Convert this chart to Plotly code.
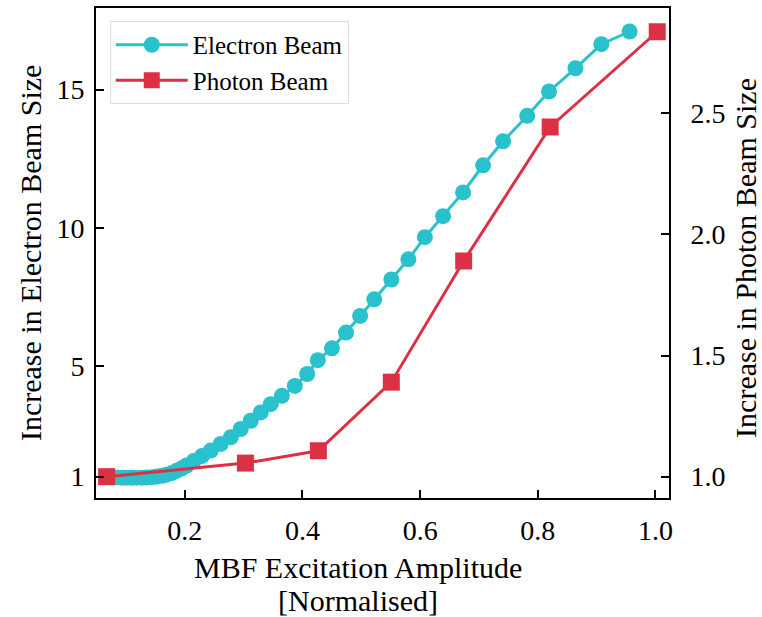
import plotly.graph_objects as go

# Electron beam (left axis)
electron_x = [0.067, 0.076, 0.084, 0.093, 0.101, 0.110, 0.118, 0.127, 0.135, 0.144,
              0.152, 0.161, 0.169, 0.178, 0.186, 0.195, 0.203, 0.215, 0.229, 0.244,
              0.261, 0.278, 0.295, 0.312, 0.329, 0.346, 0.365, 0.387, 0.408,
              0.426, 0.450, 0.474, 0.498, 0.522, 0.551, 0.580, 0.608, 0.639, 0.673,
              0.707, 0.741, 0.782, 0.819, 0.864, 0.908, 0.956]
electron_y = [1.00, 0.98, 0.97, 0.96, 0.96, 0.96, 0.96, 0.96, 0.97, 0.98,
              1.00, 1.03, 1.07, 1.13, 1.21, 1.30, 1.40, 1.56, 1.74, 1.94,
              2.18, 2.42, 2.72, 3.02, 3.32, 3.62, 3.92, 4.28, 4.71,
              5.21, 5.64, 6.21, 6.81, 7.41, 8.13, 8.86, 9.66, 10.42, 11.28,
              12.26, 13.13, 14.05, 14.93, 15.77, 16.64, 17.10]

# Photon beam (right axis)
photon_x = [0.067, 0.303, 0.427, 0.551, 0.674, 0.821, 1.003]
photon_y = [1.00, 1.056, 1.107, 1.39, 1.89, 2.443, 2.836]

x_ticks = [0.2, 0.4, 0.6, 0.8, 1.0]
left_ticks = [1, 5, 10, 15]
right_ticks = [1.0, 1.5, 2.0, 2.5]

CYAN = "#29C1CC"
RED = "#DC3144"
FONT = "Liberation Serif"

fig = go.Figure()
fig.add_trace(go.Scatter(x=electron_x, y=electron_y, name="Electron Beam",
                         mode="lines+markers",
                         line=dict(color=CYAN, width=3),
                         marker=dict(symbol="circle", size=16, color=CYAN)))
fig.add_trace(go.Scatter(x=photon_x, y=photon_y, name="Photon Beam", yaxis="y2",
                         mode="lines+markers",
                         line=dict(color=RED, width=3),
                         marker=dict(symbol="square", size=17, color=RED)))

def axis_common():
    return dict(ticks="inside", ticklen=8, tickwidth=1.5, tickcolor="black",
                showgrid=False, zeroline=False, showline=True, linecolor="black",
                linewidth=2, tickfont=dict(family=FONT, size=28, color="black"))

fig.update_layout(
    width=762, height=617,
    margin=dict(l=96, r=93, t=6, b=119),
    plot_bgcolor="white", paper_bgcolor="white",
    font=dict(family=FONT, color="black"),
    xaxis=dict(range=[0.049, 1.023], tickvals=x_ticks, ticktext=["0.2", "0.4", "0.6", "0.8", "1.0"],
               mirror=True, ticklabelstandoff=6, **axis_common()),
    yaxis=dict(range=[0.225, 17.95], tickvals=left_ticks, ticklabelstandoff=4, **axis_common()),
    yaxis2=dict(range=[0.912, 2.934], tickvals=right_ticks, ticktext=["1.0", "1.5", "2.0", "2.5"],
                overlaying="y", side="right", ticklabelstandoff=14, **axis_common()),
    showlegend=True,
    legend=dict(x=0.024, y=0.9735, xanchor="left", yanchor="top",
                bgcolor="white", bordercolor="#DDDDDD", borderwidth=1,
                font=dict(family=FONT, size=25, color="black"),
                itemwidth=72, entrywidth=190, entrywidthmode="pixels", tracegroupgap=0),
)

title_font = dict(family=FONT, size=30, color="black")
fig.add_annotation(text="MBF Excitation Amplitude", xref="paper", yref="paper",
                   x=0.457, y=-0.1423, xanchor="center", yanchor="middle", showarrow=False,
                   font=title_font)
fig.add_annotation(text="[Normalised]", xref="paper", yref="paper",
                   x=0.457, y=-0.2093, xanchor="center", yanchor="middle", showarrow=False,
                   font=title_font)
fig.add_annotation(text="Increase in Electron Beam Size", xref="paper", yref="paper",
                   x=-0.115, y=0.5, xanchor="center", yanchor="middle", textangle=-90, showarrow=False,
                   font=title_font)
fig.add_annotation(text="Increase in Photon Beam Size", xref="paper", yref="paper",
                   x=1.1344, y=0.49, xanchor="center", yanchor="middle", textangle=-90, showarrow=False,
                   font=title_font)

fig.write_html("out.html")
